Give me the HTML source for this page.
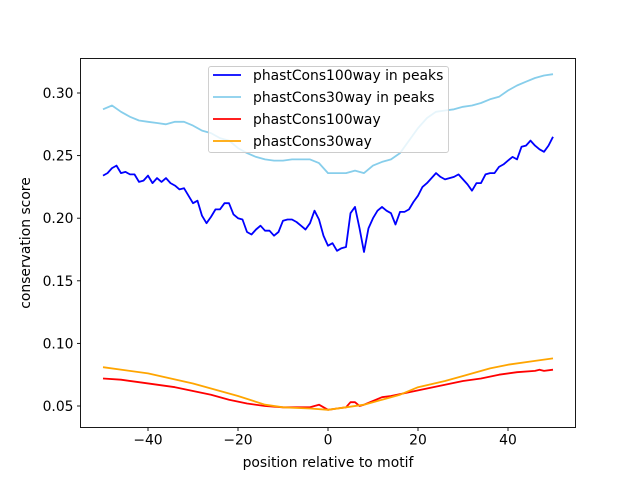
<!DOCTYPE html>
<html><head><meta charset="utf-8"><style>
html,body{margin:0;padding:0;background:#fff}
svg{display:block;font-family:"DejaVu Sans","Liberation Sans",sans-serif}
</style></head><body>
<svg id="chart" width="640" height="480">
<rect width="640" height="480" fill="#fff"/>
<g id="lines"></g>
<g id="axes"></g>
</svg>
<script>
const xBlue = [];
for (let i = -50; i <= 50; i++) xBlue.push(i);
const peaks100 = [0.234,0.236,0.240,0.242,0.236,0.237,0.235,0.235,0.229,0.230,0.234,0.228,0.232,0.229,0.232,0.228,0.226,0.223,0.224,0.218,0.212,0.214,0.202,0.196,0.201,0.207,0.207,0.212,0.212,0.203,0.200,0.199,0.189,0.187,0.191,0.194,0.190,0.190,0.186,0.189,0.198,0.199,0.199,0.197,0.194,0.191,0.196,0.206,0.199,0.186,0.178,0.180,0.174,0.176,0.177,0.204,0.209,0.192,0.173,0.192,0.200,0.206,0.209,0.206,0.204,0.195,0.205,0.205,0.207,0.213,0.218,0.225,0.228,0.232,0.236,0.233,0.231,0.232,0.233,0.235,0.231,0.227,0.222,0.228,0.228,0.235,0.236,0.236,0.241,0.243,0.246,0.249,0.247,0.257,0.258,0.262,0.258,0.255,0.253,0.258,0.265];
const xLight = [];
for (let i = -50; i <= 50; i += 2) xLight.push(i);
const peaks30 = [0.287,0.290,0.285,0.281,0.278,0.277,0.276,0.275,0.277,0.277,0.274,0.270,0.268,0.264,0.262,0.256,0.252,0.249,0.247,0.246,0.246,0.247,0.247,0.247,0.244,0.236,0.236,0.236,0.238,0.236,0.242,0.245,0.247,0.252,0.262,0.272,0.280,0.285,0.286,0.287,0.289,0.290,0.292,0.295,0.297,0.302,0.306,0.309,0.312,0.314,0.315];
const xRed = [-50,-46,-42,-38,-34,-30,-26,-22,-18,-14,-10,-6,-4,-2,0,2,4,5,6,7,8,10,12,14,18,22,26,30,34,38,42,46,47,48,50];
const all100 = [0.072,0.071,0.069,0.067,0.065,0.062,0.059,0.055,0.052,0.050,0.049,0.049,0.049,0.051,0.047,0.048,0.049,0.053,0.053,0.050,0.051,0.054,0.057,0.058,0.061,0.064,0.067,0.070,0.072,0.075,0.077,0.078,0.079,0.078,0.079];
const xOrange = [-50,-40,-30,-20,-14,-10,-4,0,4,8,12,16,20,26,30,36,40,46,50];
const all30 = [0.081,0.076,0.068,0.058,0.051,0.049,0.048,0.047,0.049,0.051,0.055,0.059,0.065,0.070,0.074,0.080,0.083,0.086,0.088];
const xTicks = [-40,-20,0,20,40];
const yTicks = [0.05,0.10,0.15,0.20,0.25,0.30];
const seriesNames = ["phastCons100way in peaks","phastCons30way in peaks","phastCons100way","phastCons30way"];

const NS = "http://www.w3.org/2000/svg";
const L = 80.5, R = 575.5, T = 58.5, B = 427.5;
const FS = 13.9;
const sx = v => L + (v + 55) / 110 * (R - L);
const sy = v => 406 - (v - 0.05) * 1252;
function mk(tag, attrs, parent) {
  const e = document.createElementNS(NS, tag);
  for (const k in attrs) e.setAttribute(k, attrs[k]);
  parent.appendChild(e);
  return e;
}
const lines = document.getElementById("lines");
const axes = document.getElementById("axes");
const colors = ["#0000ff", "#87ceeb", "#ff0000", "#ffa500"];
const xs = [xBlue, xLight, xRed, xOrange];
const ys = [peaks100, peaks30, all100, all30];
const lineNames = ["line-phastcons100way-peaks","line-phastcons30way-peaks","line-phastcons100way","line-phastcons30way"];
for (let s = 0; s < 4; s++) {
  const d = xs[s].map((x, i) => (i ? "L" : "M") + sx(x).toFixed(1) + "," + sy(ys[s][i]).toFixed(1)).join("");
  const p = mk("path", {d: d, fill: "none", stroke: colors[s], "stroke-width": 1.8, "stroke-linejoin": "round"}, lines);
  
  
}
const frame = mk("rect", {x: L, y: T, width: R - L, height: B - T, fill: "none", stroke: "#000", "stroke-width": 0.9}, axes);


xTicks.forEach(t => {
  const x = sx(t);
  mk("line", {x1: x, x2: x, y1: B, y2: B + 3.5, stroke: "#000", "stroke-width": 0.9}, axes);
  const tx = mk("text", {x: x, y: B + 17, "text-anchor": "middle", "font-size": FS, fill: "#000"}, axes);
  tx.textContent = t < 0 ? "\u2212" + Math.abs(t) : String(t);
  
  
});
yTicks.forEach(t => {
  const y = sy(t);
  mk("line", {x1: L - 3.5, x2: L, y1: y, y2: y, stroke: "#000", "stroke-width": 0.9}, axes);
  const tx = mk("text", {x: L - 7, y: y + 5, "text-anchor": "end", "font-size": FS, fill: "#000"}, axes);
  tx.textContent = t.toFixed(2);
  
  
});
const xt = mk("text", {x: (L + R) / 2, y: 467, "text-anchor": "middle", "font-size": FS}, axes);
xt.textContent = "position relative to motif";


const yt = mk("text", {x: 0, y: 0, "text-anchor": "middle", "font-size": FS, transform: "translate(30," + ((T + B) / 2) + ") rotate(-90)"}, axes);
yt.textContent = "conservation score";


const lg = mk("g", {}, axes);


mk("rect", {x: 208.5, y: 66.5, width: 240, height: 86, rx: 2.5, fill: "#fff", "fill-opacity": 0.8, stroke: "#ccc", "stroke-width": 0.9}, lg);
seriesNames.forEach((n, i) => {
  const y = 75 + i * 22;
  const ln = mk("line", {x1: 213, x2: 241, y1: y, y2: y, stroke: colors[i], "stroke-width": 1.8}, lg);
  
  
  const tx = mk("text", {x: 253, y: y + 5, "font-size": FS, fill: "#000"}, lg);
  tx.textContent = n;
  
  
});
</script>
</body></html>
